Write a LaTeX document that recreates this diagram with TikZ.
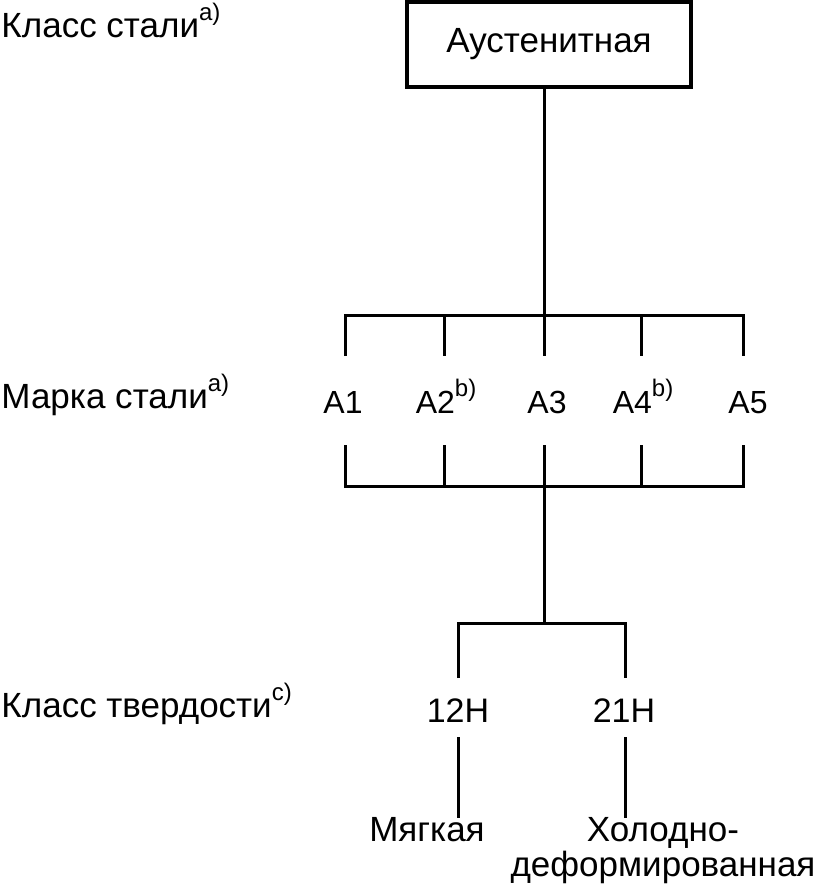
\documentclass[tikz,border=0pt]{standalone}
\usepackage{fontspec}
\setmainfont{Liberation Sans}
\newcommand{\supr}[1]{\raisebox{17pt}{\fontsize{24}{24}\selectfont #1}}
\begin{document}
\begin{tikzpicture}[x=1pt,y=-1pt,line width=3pt,
  lbl/.style={inner sep=0pt,font=\fontsize{35}{35}\selectfont},
  cls/.style={lbl,anchor=base west},
  grade/.style={inner sep=0pt,anchor=base,font=\fontsize{32}{36}\selectfont},
  hard/.style={inner sep=0pt,anchor=base,font=\fontsize{34}{36}\selectfont},
  classbox/.style={draw,line width=4.5pt,minimum width=284pt,minimum height=85pt,inner sep=0pt,font=\fontsize{35}{40}\selectfont}]
\useasboundingbox (0,0) rectangle (817,885);
% left category labels
\node[cls] (l1) at (0,38) {Класс стали\supr{a)}};
\node[cls] (l2) at (0,408) {Марка стали\supr{a)}};
\node[cls] (l3) at (0,717) {Класс твердости\supr{c)}};
% top box
\node[classbox] (aus) at (549,44.5) {\raisebox{-1pt}{Аустенитная}};
% upper bracket
\coordinate (hub1) at (544,315);
\coordinate (t1) at (345,315); \coordinate (t5) at (743,315);
\coordinate (t2) at (444,315); \coordinate (t4) at (641,315);
\coordinate (e1) at (345,356); \coordinate (e2) at (444,356); \coordinate (e3) at (544,356);
\coordinate (e4) at (641,356); \coordinate (e5) at (743,356);
\draw (aus.south -| hub1) -- (hub1);
\draw (e1) -- (t1) -- (t5) -- (e5);
\draw (t2) -- (e2); \draw (hub1) -- (e3); \draw (t4) -- (e4);
% grades
\node[grade] (a1) at (343,413) {A1};
\node[grade] (a2) at (446,413) {A2\supr{b)}};
\node[grade] (a3) at (547,413) {A3};
\node[grade] (a4) at (643,413) {A4\supr{b)}};
\node[grade] (a5) at (748,413) {A5};
% lower bracket
\coordinate (f1) at (345,445); \coordinate (f2) at (444,445); \coordinate (f3) at (544,445);
\coordinate (f4) at (641,445); \coordinate (f5) at (743,445);
\coordinate (b1) at (345,486); \coordinate (b2) at (444,486); \coordinate (hub2) at (544,486);
\coordinate (b4) at (641,486); \coordinate (b5) at (743,486);
\draw (f1) -- (b1) -- (b5) -- (f5);
\draw (f2) -- (b2); \draw (f3) -- (hub2); \draw (f4) -- (b4);
% hardness bracket
\coordinate (hub3) at (544,623);
\coordinate (h1) at (458,623); \coordinate (h2) at (625,623);
\coordinate (g1) at (458,678); \coordinate (g2) at (625,678);
\draw (hub2) -- (hub3);
\draw (g1) -- (h1) -- (h2) -- (g2);
\node[hard] (n12) at (458,722) {12H};
\node[hard] (n21) at (624,722) {21H};
\coordinate (k1) at (458,737); \coordinate (k2) at (625,737);
\coordinate (m1) at (458,818); \coordinate (m2) at (625,818);
\draw (k1) -- (m1); \draw (k2) -- (m2);
\node[lbl,anchor=base] (soft) at (427,841) {Мягкая};
\node[lbl,anchor=base,align=center] (cold) at (663,876) {Холодно-\\деформированная};
\end{tikzpicture}
\end{document}
